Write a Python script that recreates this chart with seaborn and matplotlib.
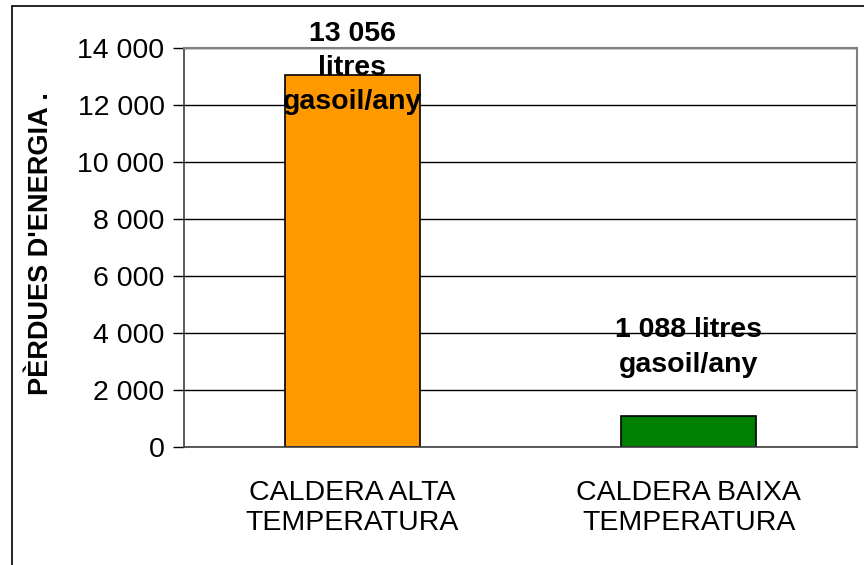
import matplotlib
matplotlib.use("Agg")
import matplotlib.pyplot as plt
import seaborn as sns
import pandas as pd
from matplotlib.lines import Line2D
from matplotlib.ticker import FuncFormatter, MultipleLocator

# data
categories = ["CALDERA ALTA\nTEMPERATURA", "CALDERA BAIXA\nTEMPERATURA"]
values = [13056, 1088]
bar_colors = ["#FF9900", "#008000"]
bar_labels = ["13 056\nlitres\ngasoil/any", "1 088 litres\ngasoil/any"]
label_y = [13300, 3490]
y_title = "PÈRDUES D'ENERGIA ."

sns.set_style("white")
plt.rcParams['font.family'] = ['Liberation Sans', 'DejaVu Sans']
plt.rcParams['text.color'] = 'black'
plt.rcParams['axes.labelcolor'] = 'black'
plt.rcParams['xtick.color'] = 'black'
plt.rcParams['ytick.color'] = 'black'

df = pd.DataFrame({'cat': categories, 'val': values})

fig = plt.figure(figsize=(8.64, 5.65), dpi=100)
ax = fig.add_axes([184/864, 1 - 447/565, (857 - 184)/864, (447 - 48)/565])

ax.yaxis.grid(True, color='black', linewidth=1)
ax.set_axisbelow(True)
sns.barplot(data=df, x='cat', y='val', hue='cat', palette=bar_colors, legend=False,
            width=0.4, saturation=1, edgecolor='black', linewidth=1.2, ax=ax)

ax.set_ylim(0, 14000)
ax.set_xlim(-0.5, 1.5)
ax.yaxis.set_major_locator(MultipleLocator(2000))
ax.yaxis.set_major_formatter(FuncFormatter(lambda v, p: f"{int(v):,}".replace(",", " ")))
ax.tick_params(axis='y', which='major', direction='out', length=8, width=1, color='black',
               labelsize=20.5, pad=6, left=True)

# category ticks sit at the boundaries between categories
ax.set_xticks([0, 1])
ax.set_xticklabels(categories, fontsize=20.5, linespacing=1.2)
ax.tick_params(axis='x', which='major', length=0, pad=24)
ax.set_xticks([-0.5, 0.5, 1.5], minor=True)
ax.tick_params(axis='x', which='minor', direction='out', length=8, width=1, color='black')

ax.set_xlabel("")
ax.set_ylabel(y_title, fontsize=19.5, fontweight='bold')
ax.yaxis.set_label_coords(-0.1925, 0.51)

for s in ['top', 'right']:
    ax.spines[s].set_color('#808080')
    ax.spines[s].set_linewidth(1.5)
ax.spines['left'].set_color('#404040')
ax.spines['bottom'].set_color('#404040')
for s in ['left', 'bottom']:
    ax.spines[s].set_linewidth(1.2)

for i, (txt, y) in enumerate(zip(bar_labels, label_y)):
    ax.text(i, y, txt, ha='center', va='center', fontsize=20.5, fontweight='bold',
            linespacing=1.42, clip_on=False, zorder=5)

# outer chart border (top and left edges visible)
fig.add_artist(Line2D([12/864, 12/864], [0, 1 - 6/565], color='black', linewidth=1.2))
fig.add_artist(Line2D([12/864, 1.0], [1 - 6/565, 1 - 6/565], color='black', linewidth=1.2))

fig.savefig("out.png", dpi=100)
